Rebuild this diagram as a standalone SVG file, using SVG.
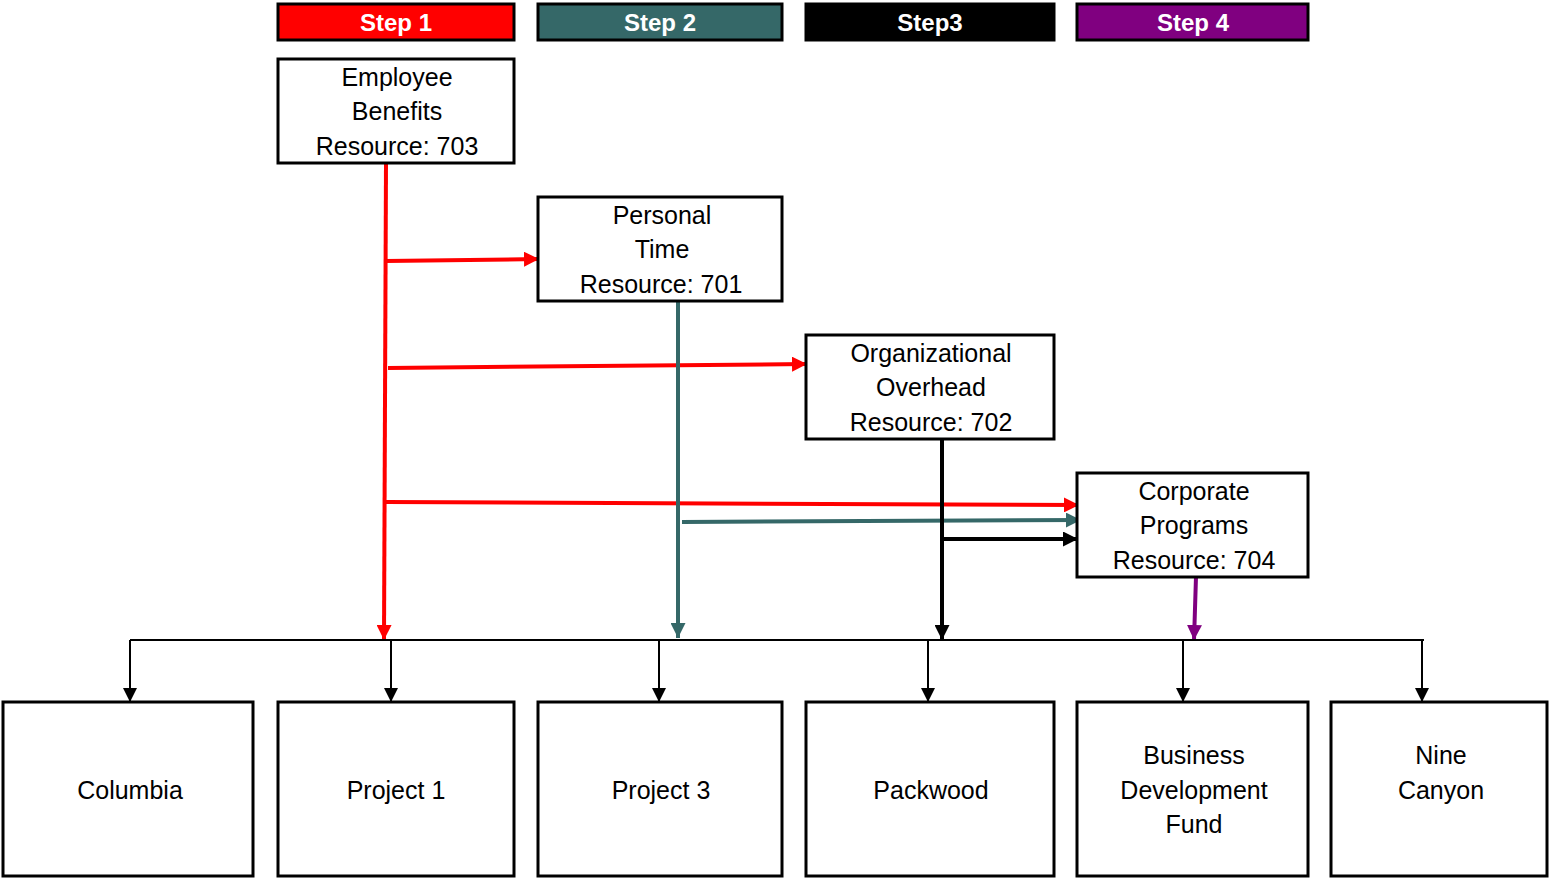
<svg xmlns="http://www.w3.org/2000/svg" width="1549" height="878" viewBox="0 0 1549 878">
<style>
.hdr{stroke:#000;stroke-width:3}
.ht{font-family:"Liberation Sans",Arial,sans-serif;font-weight:bold;font-size:24px;fill:#fff;text-anchor:middle}
.box{fill:#fff;stroke:#000;stroke-width:3}
.t{font-family:"Liberation Sans",Arial,sans-serif;font-size:25px;fill:#000;text-anchor:middle}
.bus{stroke:#000;stroke-width:2;fill:none}
</style>
<defs>
<marker id="aK" viewBox="0 0 10 10" refX="10" refY="5" markerWidth="14" markerHeight="14" markerUnits="userSpaceOnUse" orient="auto"><path d="M0,0L10,5L0,10z" fill="#000"/></marker>
<marker id="aR" viewBox="0 0 10 10" refX="10" refY="5" markerWidth="15" markerHeight="15" markerUnits="userSpaceOnUse" orient="auto"><path d="M0,0L10,5L0,10z" fill="#f00"/></marker>
<marker id="aT" viewBox="0 0 10 10" refX="10" refY="5" markerWidth="15" markerHeight="15" markerUnits="userSpaceOnUse" orient="auto"><path d="M0,0L10,5L0,10z" fill="#356868"/></marker>
<marker id="aP" viewBox="0 0 10 10" refX="10" refY="5" markerWidth="15" markerHeight="15" markerUnits="userSpaceOnUse" orient="auto"><path d="M0,0L10,5L0,10z" fill="#800080"/></marker>
<marker id="aKB" viewBox="0 0 10 10" refX="10" refY="5" markerWidth="15" markerHeight="15" markerUnits="userSpaceOnUse" orient="auto"><path d="M0,0L10,5L0,10z" fill="#000"/></marker>
</defs>
<rect width="1549" height="878" fill="#fff"/>
<g id="step1"><rect class="hdr" x="278" y="4" width="236" height="36" fill="#f00"/><text class="ht" x="396" y="31">Step 1</text></g>
<g id="step2"><rect class="hdr" x="538" y="4" width="244" height="36" fill="#356868"/><text class="ht" x="660" y="31">Step 2</text></g>
<g id="step3"><rect class="hdr" x="806" y="4" width="248" height="36" fill="#000"/><text class="ht" x="930" y="31">Step3</text></g>
<g id="step4"><rect class="hdr" x="1077" y="4" width="231" height="36" fill="#800080"/><text class="ht" x="1193" y="31">Step 4</text></g>

<g id="connectors">
<line x1="386" y1="163" x2="384" y2="640" stroke="#f00" stroke-width="4" marker-end="url(#aR)"/>
<line x1="386" y1="261" x2="539" y2="259" stroke="#f00" stroke-width="4" marker-end="url(#aR)"/>
<line x1="388" y1="368" x2="807" y2="364" stroke="#f00" stroke-width="4" marker-end="url(#aR)"/>
<line x1="386" y1="502" x2="1079" y2="505" stroke="#f00" stroke-width="4" marker-end="url(#aR)"/>
<line x1="678" y1="301" x2="678" y2="638" stroke="#356868" stroke-width="4" marker-end="url(#aT)"/>
<line x1="682" y1="522" x2="1081" y2="520" stroke="#356868" stroke-width="4" marker-end="url(#aT)"/>
<line x1="942" y1="439" x2="942" y2="640" stroke="#000" stroke-width="4" marker-end="url(#aKB)"/>
<line x1="942" y1="539" x2="1078" y2="539" stroke="#000" stroke-width="4" marker-end="url(#aKB)"/>
<line x1="1196" y1="577" x2="1194" y2="640" stroke="#800080" stroke-width="4" marker-end="url(#aP)"/>
<line class="bus" x1="130" y1="640" x2="1424" y2="640"/>
<line class="bus" x1="130" y1="640" x2="130" y2="702" marker-end="url(#aK)"/>
<line class="bus" x1="391" y1="640" x2="391" y2="702" marker-end="url(#aK)"/>
<line class="bus" x1="659" y1="640" x2="659" y2="702" marker-end="url(#aK)"/>
<line class="bus" x1="928" y1="640" x2="928" y2="702" marker-end="url(#aK)"/>
<line class="bus" x1="1183" y1="640" x2="1183" y2="702" marker-end="url(#aK)"/>
<line class="bus" x1="1422" y1="640" x2="1422" y2="702" marker-end="url(#aK)"/>
</g>

<g id="employee-benefits"><rect class="box" x="278" y="59" width="236" height="104"/><text class="t" x="397" y="86">Employee</text><text class="t" x="397" y="120">Benefits</text><text class="t" x="397" y="155">Resource: 703</text></g>
<g id="personal-time"><rect class="box" x="538" y="197" width="244" height="104"/><text class="t" x="662" y="224">Personal</text><text class="t" x="662" y="258">Time</text><text class="t" x="661" y="293">Resource: 701</text></g>
<g id="org-overhead"><rect class="box" x="806" y="335" width="248" height="104"/><text class="t" x="931" y="362">Organizational</text><text class="t" x="931" y="396">Overhead</text><text class="t" x="931" y="431">Resource: 702</text></g>
<g id="corporate-programs"><rect class="box" x="1077" y="473" width="231" height="104"/><text class="t" x="1194" y="500">Corporate</text><text class="t" x="1194" y="534">Programs</text><text class="t" x="1194" y="569">Resource: 704</text></g>

<g id="columbia"><rect class="box" x="3" y="702" width="250" height="174"/><text class="t" x="130" y="799">Columbia</text></g>
<g id="project1"><rect class="box" x="278" y="702" width="236" height="174"/><text class="t" x="396" y="799">Project 1</text></g>
<g id="project3"><rect class="box" x="538" y="702" width="244" height="174"/><text class="t" x="661" y="799">Project 3</text></g>
<g id="packwood"><rect class="box" x="806" y="702" width="248" height="174"/><text class="t" x="931" y="799">Packwood</text></g>
<g id="bdf"><rect class="box" x="1077" y="702" width="231" height="174"/><text class="t" x="1194" y="764">Business</text><text class="t" x="1194" y="799">Development</text><text class="t" x="1194" y="833">Fund</text></g>
<g id="nine-canyon"><rect class="box" x="1331" y="702" width="216" height="174"/><text class="t" x="1441" y="764">Nine</text><text class="t" x="1441" y="799">Canyon</text></g>
</svg>
